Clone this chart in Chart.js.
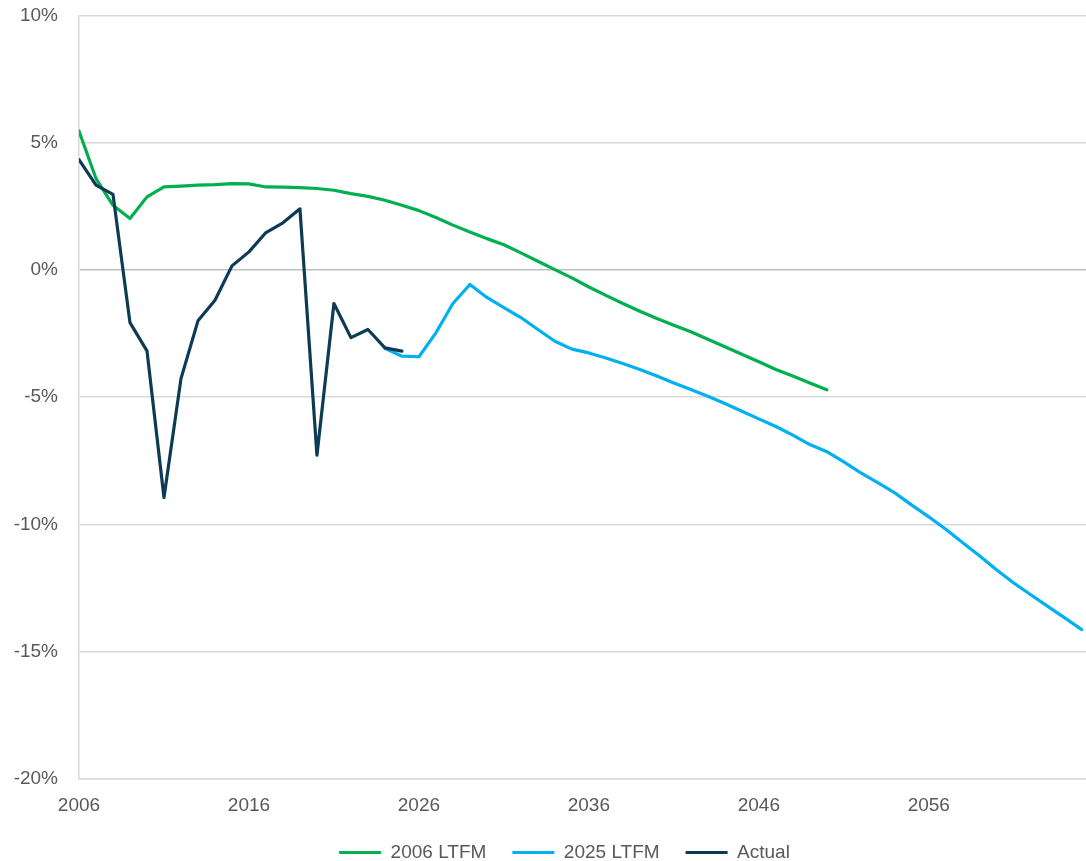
<!DOCTYPE html>
<html>
<head>
<meta charset="utf-8">
<script src="https://cdn.jsdelivr.net/npm/chart.js@4/dist/chart.umd.min.js"></script>
<style>
  html, body { margin: 0; padding: 0; background: #fff; overflow: hidden; }
  #wrap { width: 1086px; height: 872px; position: relative; }
</style>
</head>
<body>
<div id="wrap"><canvas id="chart"></canvas></div>
<script>
// budget balance, % of GDP
const xTicks = [2006, 2016, 2026, 2036, 2046, 2056];
const yTicks = [-20, -15, -10, -5, 0, 5, 10];

const ltfm2006Start = 2006;
const ltfm2006 = [
  5.46, 3.59, 2.54, 2.02, 2.87, 3.26, 3.29, 3.33, 3.35, 3.39,
  3.38, 3.26, 3.25, 3.23, 3.20, 3.13, 3.00, 2.89, 2.74, 2.54,
  2.33, 2.06, 1.76, 1.49, 1.23, 0.99, 0.67, 0.34, 0.01, -0.31,
  -0.67, -1.00, -1.32, -1.62, -1.91, -2.17, -2.43, -2.72, -3.02, -3.31,
  -3.61, -3.91, -4.17, -4.44, -4.71
];

const ltfm2025Start = 2024;
const ltfm2025 = [
  -3.08, -3.39, -3.41, -2.47, -1.32, -0.57, -1.08, -1.48, -1.87, -2.34,
  -2.80, -3.11, -3.26, -3.46, -3.68, -3.91, -4.17, -4.44, -4.70, -4.96,
  -5.25, -5.55, -5.85, -6.15, -6.49, -6.86, -7.14, -7.54, -7.97, -8.36,
  -8.76, -9.24, -9.70, -10.19, -10.72, -11.24, -11.79, -12.30, -12.76, -13.22,
  -13.67, -14.13
];

const actualStart = 2006;
const actual = [
  4.33, 3.33, 2.97, -2.07, -3.18, -8.94, -4.27, -2.00, -1.19, 0.16,
  0.71, 1.47, 1.85, 2.40, -7.28, -1.32, -2.66, -2.34, -3.06, -3.19
];

const COLORS = {
  ltfm2006: "#00b050",
  ltfm2025: "#00b0f0",
  actual: "#0d3a54",
  grid: "#d9d9d9",
  zero: "#bfbfbf",
  text: "#595959"
};

function toPoints(start, values) {
  return values.map((v, i) => ({ x: start + i, y: v }));
}

function lineSet(label, color, points, order) {
  return {
    label,
    data: points,
    borderColor: color,
    backgroundColor: color,
    borderWidth: 3.2,
    borderJoinStyle: "round",
    borderCapStyle: "round",
    pointRadius: 0,
    pointHoverRadius: 0,
    pointStyle: "line",
    tension: 0,
    fill: false,
    order
  };
}

// nudge the legend so it sits where the original has it
const legendShift = {
  id: "legendShift",
  afterLayout(chart) {
    if (!chart.legend) return;
    chart.legend.left -= 18;
    chart.legend.right -= 18;
  }
};

Chart.defaults.font.family = "'Liberation Sans', Arial, sans-serif";
Chart.defaults.font.size = 19;
Chart.defaults.color = COLORS.text;

new Chart(document.getElementById("chart"), {
  type: "line",
  data: {
    datasets: [
      lineSet("2006 LTFM", COLORS.ltfm2006, toPoints(ltfm2006Start, ltfm2006), 2),
      lineSet("2025 LTFM", COLORS.ltfm2025, toPoints(ltfm2025Start, ltfm2025), 1),
      lineSet("Actual", COLORS.actual, toPoints(actualStart, actual), 0)
    ]
  },
  plugins: [legendShift],
  options: {
    responsive: true,
    maintainAspectRatio: false,
    animation: false,
    layout: { padding: 0 },
    plugins: {
      tooltip: { enabled: false },
      legend: {
        position: "bottom",
        fullSize: false,
        labels: {
          usePointStyle: true,
          pointStyle: "line",
          pointStyleWidth: 42,
          padding: 26,
          color: COLORS.text,
          sort: (a, b) => a.datasetIndex - b.datasetIndex
        }
      }
    },
    scales: {
      x: {
        type: "linear",
        min: 2006,
        max: 2065.25,
        afterBuildTicks: (scale) => {
          scale.ticks = xTicks.map((v) => ({ value: v }));
        },
        afterFit: (scale) => { scale.height = 38; },
        ticks: {
          padding: 15,
          maxRotation: 0,
          autoSkip: false,
          callback: (v) => String(v)
        },
        grid: { display: false, drawTicks: false },
        border: { display: true, color: COLORS.grid, width: 1.5 }
      },
      y: {
        min: -20,
        max: 10,
        afterBuildTicks: (scale) => {
          scale.ticks = yTicks.map((v) => ({ value: v }));
        },
        afterFit: (scale) => { scale.width = 79; },
        ticks: {
          padding: 4,
          callback: (v) => v + "%"
        },
        grid: {
          drawTicks: true,
          tickLength: 17,
          tickColor: "rgba(0,0,0,0)",
          lineWidth: 1.5,
          color: (ctx) => (ctx.tick && ctx.tick.value === 0 ? COLORS.zero : COLORS.grid)
        },
        border: { display: true, color: COLORS.grid, width: 1.5 }
      }
    }
  }
});
</script>
</body>
</html>
